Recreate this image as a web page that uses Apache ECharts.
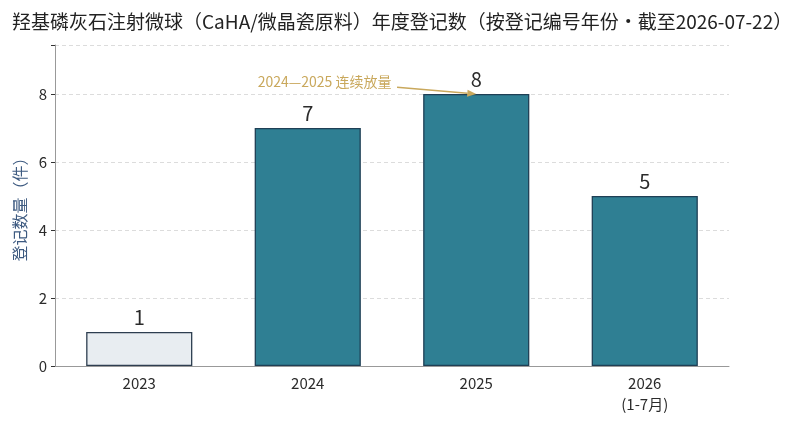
<!DOCTYPE html>
<html>
<head>
<meta charset="utf-8">
<script src="https://cdn.jsdelivr.net/npm/echarts@6/dist/echarts.min.js"></script>
<style>
html, body { margin: 0; padding: 0; background: #fff; }
#main { width: 787px; height: 425px; }
</style>
</head>
<body>
<div id="main"></div>
<script>
var years = ['2023', '2024', '2025', '2026\n(1-7月)'];
var counts = [1, 7, 8, 5];
var yTicks = [0, 2, 4, 6, 8];
var noteText = '2024—2025 连续放量';
// annotation: text centre and arrow start/end in data space (category index, value)
var noteAt = [1.1, 8.37];
var arrowFrom = [1.53, 8.2];
var arrowTo = [2, 8];

var FONT = '"Noto Sans CJK SC", "Noto Sans", sans-serif';

var chart = echarts.init(document.getElementById('main'));

var option = {
    backgroundColor: '#fff',
    animation: false,
    title: {
        text: '羟基磷灰石注射微球（CaHA/微晶瓷原料）年度登记数（按登记编号年份·截至2026-07-22）',
        left: 7,
        top: 7,
        textStyle: { fontFamily: FONT, fontSize: 19, fontWeight: 'normal', color: '#222' }
    },
    grid: { left: 55, right: 58, top: 45, bottom: 59 },
    xAxis: {
        type: 'category',
        data: years,
        axisLine: { lineStyle: { color: '#999', width: 1 } },
        axisTick: { alignWithLabel: true, length: 4, lineStyle: { color: '#333' } },
        axisLabel: { fontFamily: FONT, fontSize: 15, color: '#2b2b2b', margin: 7, lineHeight: 21 }
    },
    yAxis: {
        type: 'value',
        min: 0,
        max: 9.44,
        interval: 2,
        name: '登记数量（件）',
        nameLocation: 'middle',
        nameGap: 26,
        nameTextStyle: { fontFamily: FONT, fontSize: 16, color: '#3d5a80' },
        axisLine: { show: true, lineStyle: { color: '#999', width: 1 } },
        axisTick: { show: true, length: 4, lineStyle: { color: '#333' } },
        axisLabel: {
            fontFamily: FONT, fontSize: 15, color: '#2b2b2b', margin: 8,
            formatter: function (v) { return yTicks.indexOf(v) >= 0 ? String(v) : ''; }
        },
        splitLine: { show: true, lineStyle: { color: '#dcdcdc', type: [4, 3], width: 1 } }
    },
    series: [{
        type: 'bar',
        barWidth: '63%',
        data: counts.map(function (v, i) {
            return {
                value: v,
                itemStyle: i === 0
                    ? { color: '#e8edf1', borderColor: '#2d3e50', borderWidth: 1.3 }
                    : { color: '#2f7f93', borderColor: '#1f3f55', borderWidth: 1.3 }
            };
        }),
        label: {
            show: true,
            position: 'top',
            distance: 5,
            fontFamily: FONT,
            fontSize: 20,
            color: '#2b2b2b'
        }
    }]
};
chart.setOption(option);

// place the annotation through the chart's own scales
function toPx(p) {
    var a = chart.convertToPixel({ seriesIndex: 0 }, [Math.floor(p[0]), p[1]]);
    var b = chart.convertToPixel({ seriesIndex: 0 }, [Math.floor(p[0]) + 1, p[1]]);
    var f = p[0] - Math.floor(p[0]);
    return [a[0] + (b[0] - a[0]) * f, a[1]];
}
var t = toPx(noteAt), s = toPx(arrowFrom), e = toPx(arrowTo);
var ang = Math.atan2(e[1] - s[1], e[0] - s[0]);
var hl = 9, hw = 3.5;
var back = [e[0] - hl * Math.cos(ang), e[1] - hl * Math.sin(ang)];
var head = [
    e,
    [back[0] + hw * Math.sin(ang), back[1] - hw * Math.cos(ang)],
    [back[0] - hw * Math.sin(ang), back[1] + hw * Math.cos(ang)]
];
chart.setOption({
    graphic: [
        {
            type: 'text', x: t[0], y: t[1], z: 100,
            style: {
                text: noteText, fill: '#c9a85c', font: '14px ' + FONT,
                textAlign: 'center', textVerticalAlign: 'middle'
            }
        },
        {
            type: 'line', z: 100,
            shape: { x1: s[0], y1: s[1], x2: back[0], y2: back[1] },
            style: { stroke: '#c9a85c', lineWidth: 1.5 }
        },
        {
            type: 'polygon', z: 100,
            shape: { points: head },
            style: { fill: '#c9a85c' }
        }
    ]
});
</script>
</body>
</html>
